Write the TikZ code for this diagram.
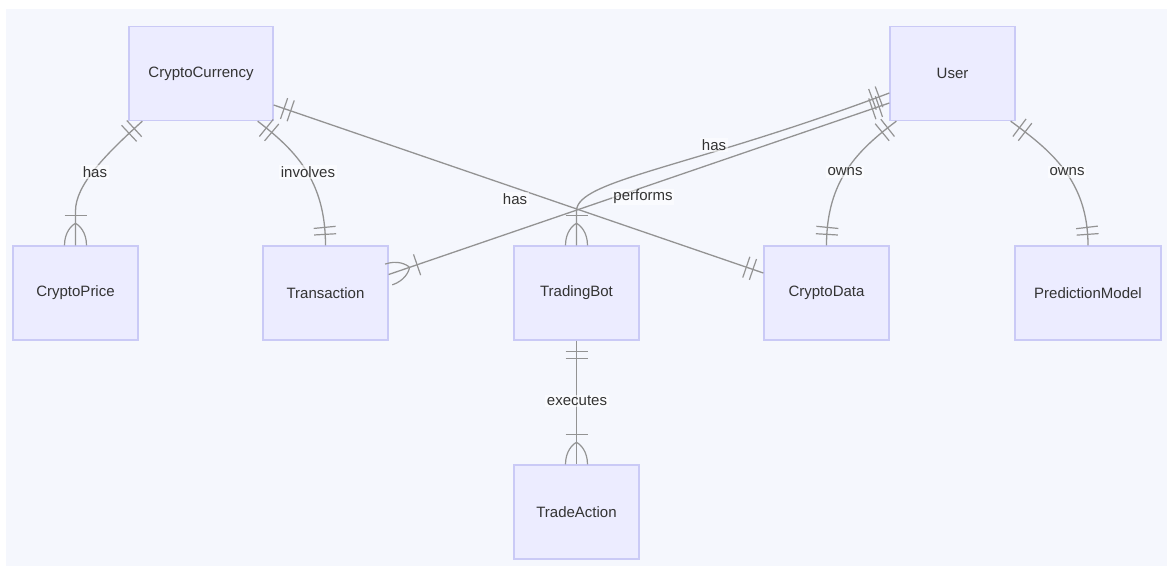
\documentclass[tikz,border=0pt]{standalone}
\usepackage{fontspec}
\setmainfont{Liberation Sans}
\usetikzlibrary{decorations.markings,calc}
\definecolor{bgc}{HTML}{F5F7FD}
\definecolor{boxfill}{HTML}{ECECFF}
\definecolor{boxdraw}{HTML}{CACAF6}
\definecolor{edgec}{HTML}{939393}
\definecolor{txt}{HTML}{333333}
\tikzset{
  entity/.style={draw=boxdraw, fill=boxfill, line width=1.3pt, rectangle, inner sep=0pt,
    minimum width=125pt, minimum height=94pt, text=txt, font=\fontsize{15}{18}\selectfont},
  rel/.style={draw=edgec, line width=1.3pt},
  mk/.style={draw=edgec, line width=1.2pt},
  lbl/.style={fill=white, fill opacity=0.55, text opacity=1, text=txt, inner sep=1.5pt,
    font=\fontsize{15}{18}\selectfont},
  oneStart/.style={postaction={decorate, decoration={markings,
    mark=at position 11pt with {\draw[mk] (0pt,-11pt)--(0pt,11pt);},
    mark=at position 18pt with {\draw[mk] (0pt,-11pt)--(0pt,11pt);}}}},
  oneEnd/.style={postaction={decorate, decoration={markings,
    mark=at position -11pt with {\draw[mk] (0pt,-11pt)--(0pt,11pt);},
    mark=at position -18pt with {\draw[mk] (0pt,-11pt)--(0pt,11pt);}}}},
  manyEnd/.style={postaction={decorate, decoration={markings,
    mark=at position -30pt with {\draw[mk] (0pt,-11pt)--(0pt,11pt);},
    mark=at position -0.01pt with {\draw[mk] (0pt,-11pt) .. controls (-13pt,-11pt) and (-20pt,-4pt) .. (-22pt,0pt)
        .. controls (-20pt,4pt) and (-13pt,11pt) .. (0pt,11pt);}}}},
}
\begin{document}
\begin{tikzpicture}[x=1pt,y=-1pt]
\useasboundingbox (0,0) rectangle (1167,566);
\fill[bgc] (6,9) rectangle (1167,566);

\node[entity, minimum width=144pt] (cc) at (201,73.5) {CryptoCurrency};
\node[entity] (user) at (952.5,73.5) {User};
\node[entity] (price) at (75.5,293) {CryptoPrice};
\node[entity] (trans) at (325.5,293) {Transaction};
\node[entity] (bot) at (576.5,293) {TradingBot};
\node[entity] (data) at (826.5,293) {CryptoData};
\node[entity, minimum width=146pt] (pred) at (1088,293) {PredictionModel};
\node[entity] (action) at (576.5,512) {TradeAction};

% CryptoCurrency -- CryptoPrice
\draw[rel, oneStart, manyEnd] ([xshift=14pt]cc.south west) .. controls (105,155) and (75.5,185) .. (75.5,211) -- (price.north);
% CryptoCurrency -- Transaction
\draw[rel, oneStart, oneEnd] ([xshift=-16pt]cc.south east) .. controls (295,150) and (325.5,180) .. (trans.north);
% CryptoCurrency -- CryptoData
\draw[rel, oneStart, oneEnd] ([yshift=-31.5pt]cc.east) -- ([yshift=20pt]data.west);
% User -- TradingBot
\draw[rel, oneStart, manyEnd] ([yshift=-19.5pt]user.west) .. controls (690,168) and (576.5,180) .. (576.5,211) -- (bot.north);
% User -- Transaction
\draw[rel, oneStart, manyEnd] ([yshift=-29.5pt]user.west) -- ([yshift=18.5pt]trans.east);
% User -- CryptoData
\draw[rel, oneStart, oneEnd] ([xshift=7pt]user.south west) .. controls (858,150) and (826.5,180) .. (data.north);
% User -- PredictionModel
\draw[rel, oneStart, oneEnd] ([xshift=-5pt]user.south east) .. controls (1050,150) and (1088,180) .. (pred.north);
% TradingBot -- TradeAction
\draw[rel, oneStart, manyEnd] (bot.south) -- (action.north);

\node[lbl] (l1) at (95,172) {has};
\node[lbl] (l2) at (308,172) {involves};
\node[lbl] (l3) at (515,199) {has};
\node[lbl] (l4) at (714,145) {has};
\node[lbl] (l5) at (643,197) {performs};
\node[lbl] (l6) at (845,172) {owns};
\node[lbl] (l7) at (1067,172) {owns};
\node[lbl] (l8) at (577,401) {executes};
\end{tikzpicture}
\end{document}
